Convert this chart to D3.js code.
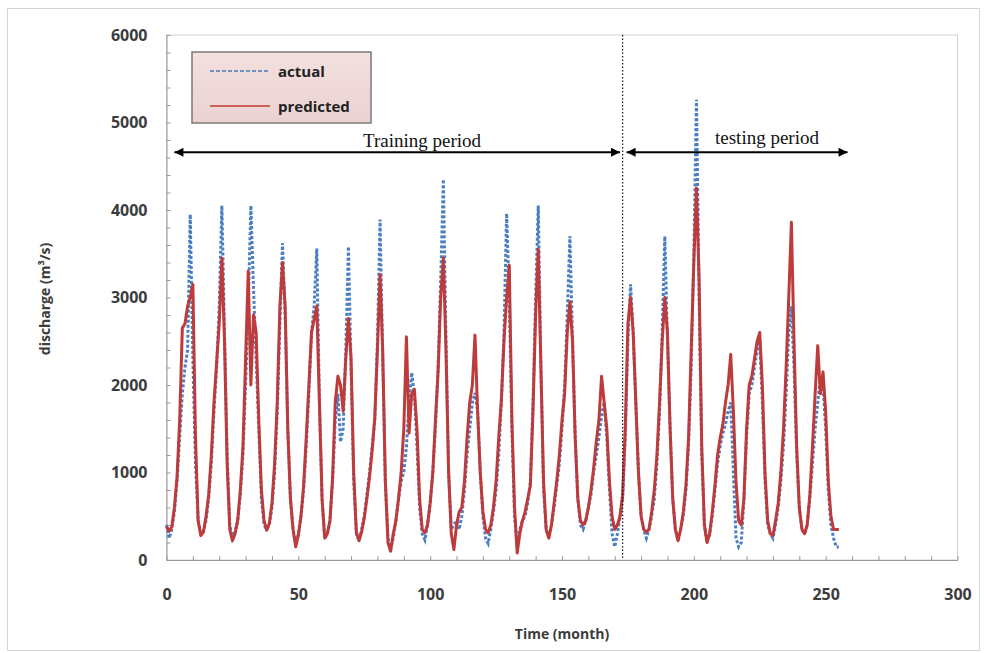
<html>
<head>
<style>
  body { margin: 0; background: #fff; }
  .tickLabel text { font-family: "Open Sans", sans-serif; font-weight: bold; font-size: 16px; fill: #3c3c3c; }
  .minor line, .minor path { stroke: #9a9a9a; }
  .axisTitle { font-family: "Open Sans", sans-serif; font-weight: bold; font-size: 14px; fill: #3c3c3c; }
  .legendText { font-family: "Open Sans", sans-serif; font-weight: bold; font-size: 15px; fill: #222; }
  .note { font-family: "Liberation Serif", "Times New Roman", serif; font-size: 19px; fill: #111; }
</style>
</head>
<body>
<svg id="chart" width="987" height="653"></svg>

<script src="https://cdn.jsdelivr.net/npm/d3@7"></script>
<script>
// monthly discharge (m3/s), month 0..255
let actual = [
  400, 250, 350, 550, 900, 1400, 1900, 2200, 2400, 3950, 2300, 1100, 450, 300,
  330, 450, 700, 1100, 1700, 2200, 2900, 4050, 2600, 1200, 400, 250,
  330, 450, 750, 1200, 2000, 2900, 4050, 3100, 2300, 1500, 700, 400, 350,
  400, 600, 1000, 1700, 2700, 3620, 2800, 1500, 700, 350, 180,
  300, 500, 800, 1300, 1900, 2600, 2900, 3560, 1800, 700, 250, 300,
  450, 900, 1600, 1900, 1350, 1500, 2400, 3580, 2200, 900, 300, 220,
  350, 500, 750, 1000, 1300, 1600, 2500, 3890, 2300, 900, 250, 120,
  250, 450, 700, 900, 1000, 1300, 1800, 2140, 1900, 1300, 600, 300, 230,
  400, 650, 1000, 1500, 2200, 3200, 4350, 2500, 1000, 350, 400, 450, 350, 500,
  800, 1200, 1500, 1800, 1910, 1700, 1000, 500, 250, 190,
  350, 550, 800, 1200, 1800, 2600, 3960, 3000, 1500, 500, 150, 350,
  450, 500, 650, 900, 1800, 3000, 4050, 2200, 800, 350, 250,
  400, 600, 850, 1100, 1500, 2000, 2800, 3700, 2500, 1400, 700, 400, 350,
  450, 600, 750, 1000, 1200, 1400, 1650, 1800, 1400, 800, 300, 150, 300,
  500, 700, 1400, 2500, 3150, 2600, 1800, 1000, 500, 350, 250,
  350, 500, 700, 1100, 1700, 2600, 3700, 2500, 1500, 700, 350, 220,
  350, 500, 800, 1300, 2200, 3500, 5260, 3000, 1200, 400, 200,
  300, 500, 800, 1100, 1300, 1450, 1550, 1700, 1800, 1000, 250, 150, 200,
  700, 1400, 1900, 2000, 2200, 2400, 2500, 1800, 900, 400, 300, 250,
  400, 600, 900, 1300, 1900, 2600, 2900, 2200, 1200, 600, 350, 300,
  400, 700, 1100, 1500, 1800, 2100, 2000, 1500, 800, 400, 250, 150, 150
]

let predicted = [
  380, 330, 380, 600, 950, 1600, 2650, 2700, 2900, 3000, 3150, 1400, 450, 280,
  320, 500, 750, 1200, 1800, 2250, 2700, 3450, 2500, 1100, 350, 220,
  300, 450, 800, 1300, 2300, 3300, 2000, 2800, 2600, 1600, 800, 450, 340,
  420, 650, 1100, 1800, 2900, 3400, 2900, 1500, 700, 350, 150,
  280, 500, 850, 1400, 2000, 2600, 2750, 2900, 1800, 700, 250, 300,
  450, 950, 1800, 2100, 2000, 1700, 2300, 2760, 2300, 1000, 320, 220,
  320, 480, 700, 950, 1250, 1630, 2400, 3260, 2400, 900, 200, 100,
  300, 450, 700, 1000, 1500, 2550, 1450, 1900, 1950, 1500, 700, 350, 310,
  400, 650, 1000, 1600, 2150, 3000, 3450, 2400, 1000, 300, 120, 400, 550, 600,
  900, 1400, 1800, 2000, 2570, 1700, 1000, 550, 350, 310,
  400, 600, 900, 1400, 1830, 2500, 3000, 3370, 1600, 600, 80, 300,
  450, 550, 700, 850, 1700, 2800, 3550, 2200, 900, 350, 250,
  400, 650, 900, 1200, 1600, 1900, 2600, 2950, 2500, 1400, 700, 450, 400,
  450, 600, 800, 1050, 1350, 1600, 2100, 1800, 1500, 900, 500, 350, 400,
  500, 750, 1500, 2700, 3000, 2600, 1800, 1000, 500, 350, 320,
  350, 550, 800, 1200, 1800, 2500, 3000, 2600, 1500, 700, 350, 220,
  350, 550, 850, 1400, 2400, 3400, 4250, 3200, 1300, 400, 200,
  300, 550, 850, 1200, 1400, 1550, 1800, 2000, 2350, 1700, 900, 450, 400,
  700, 1500, 2000, 2100, 2300, 2500, 2600, 2000, 1000, 450, 300, 280,
  450, 650, 1000, 1500, 2200, 3000, 3860, 2500, 1300, 600, 350, 300,
  400, 750, 1300, 1900, 2450, 1900, 2150, 1700, 900, 500, 350, 350, 350
]

let xTicks = [0, 50, 100, 150, 200, 250, 300]
let yTicks = [0, 1000, 2000, 3000, 4000, 5000, 6000]
let seriesNames = ["actual", "predicted"]

// period annotations, in data units (month, discharge)
let splitMonth = 173
let trainingSpan = [3, 172]
let testingSpan = [174.5, 258.3]
let arrowLevel = 4660

let svg = d3.select("#chart")

let x = d3.scaleLinear().domain([0, 300]).range([166.5, 957.5])
let y = d3.scaleLinear().domain([0, 6000]).range([560, 35])

// outer chart frame
svg.append("rect")
  .attr("x", 7.5).attr("y", 8.5).attr("width", 972).attr("height", 642)
  .attr("fill", "#fff").attr("stroke", "#d4d4d4")

// plot area border
svg.append("rect")
  .attr("x", x(0)).attr("y", y(6000))
  .attr("width", x(300) - x(0)).attr("height", y(0) - y(6000))
  .attr("fill", "#fff").attr("stroke", "#cfcfcf")

// minor ticks
svg.append("g").attr("class", "minor")
  .attr("transform", `translate(${x(0)},0)`)
  .call(d3.axisRight(y).tickValues(d3.range(0, 6001, 200)).tickSize(4).tickSizeOuter(0).tickFormat(""))
svg.append("g").attr("class", "minor")
  .attr("transform", `translate(0,${y(0)})`)
  .call(d3.axisTop(x).tickValues(d3.range(0, 301, 10)).tickSize(4).tickSizeOuter(0).tickFormat(""))

// tick labels
let yAxis = svg.append("g").attr("class", "tickLabel")
  .attr("transform", `translate(${x(0)},0)`)
  .call(d3.axisLeft(y).tickValues(yTicks).tickSize(0).tickPadding(19).tickFormat(d3.format("d")))
yAxis.select(".domain").remove()

let xAxis = svg.append("g").attr("class", "tickLabel")
  .attr("transform", `translate(0,${y(0)})`)
  .call(d3.axisBottom(x).tickValues(xTicks).tickSize(0).tickPadding(29).tickFormat(d3.format("d")))
xAxis.select(".domain").remove()

svg.append("text").attr("class", "axisTitle")
  .attr("x", 562).attr("y", 639).attr("text-anchor", "middle")
  .text("Time (month)")

svg.append("text").attr("class", "axisTitle")
  .attr("transform", "translate(50,299) rotate(-90)")
  .attr("text-anchor", "middle")
  .text("discharge (m³/s)")

// series
let line = d3.line()
  .x((d, i) => x(i))
  .y(d => y(d))

svg.append("path")
  .datum(actual)
  .attr("d", line)
  .attr("fill", "none")
  .attr("stroke", "#4a7fc1")
  .attr("stroke-width", 3)
  .attr("stroke-dasharray", "3,2")

svg.append("path")
  .datum(predicted)
  .attr("d", line)
  .attr("fill", "none")
  .attr("stroke", "#bf3b3b")
  .attr("stroke-width", 3)
  .attr("stroke-linejoin", "round")

// split line between training and testing
svg.append("line")
  .attr("x1", x(splitMonth)).attr("x2", x(splitMonth))
  .attr("y1", y(6000)).attr("y2", y(0))
  .attr("stroke", "#111").attr("stroke-width", 1.2)
  .attr("stroke-dasharray", "1.5,2")

// arrows
let defs = svg.append("defs")
defs.append("marker")
  .attr("id", "head")
  .attr("viewBox", "0 0 10 10")
  .attr("refX", 10).attr("refY", 5)
  .attr("markerWidth", 12).attr("markerHeight", 9)
  .attr("markerUnits", "userSpaceOnUse")
  .attr("orient", "auto-start-reverse")
  .append("path").attr("d", "M0,0L10,5L0,10Z").attr("fill", "#000")

let lg = defs.append("linearGradient").attr("id", "legendFill")
  .attr("x1", 0).attr("y1", 0).attr("x2", 0).attr("y2", 1)
lg.append("stop").attr("offset", "0%").attr("stop-color", "#f3e0df")
lg.append("stop").attr("offset", "100%").attr("stop-color", "#ead2d1")

let spans = [
  { span: trainingSpan, label: "Training period", tx: 422, ty: 147 },
  { span: testingSpan, label: "testing period", tx: 767, ty: 144 }
]
spans.forEach(s => {
  svg.append("line")
    .attr("x1", x(s.span[0])).attr("x2", x(s.span[1]))
    .attr("y1", y(arrowLevel)).attr("y2", y(arrowLevel))
    .attr("stroke", "#000").attr("stroke-width", 2)
    .attr("marker-start", "url(#head)")
    .attr("marker-end", "url(#head)")
  svg.append("text").attr("class", "note")
    .attr("x", s.tx).attr("y", s.ty).attr("text-anchor", "middle")
    .text(s.label)
})

// legend
let legend = svg.append("g").attr("transform", "translate(192,52)")
legend.append("rect")
  .attr("width", 179).attr("height", 71)
  .attr("fill", "url(#legendFill)")
  .attr("stroke", "#7a7a7a").attr("stroke-width", 1.5)

legend.selectAll(".key")
  .data(seriesNames)
  .enter()
  .append("line")
  .attr("x1", 18).attr("x2", 78)
  .attr("y1", (d, i) => 19 + i * 35).attr("y2", (d, i) => 19 + i * 35)
  .attr("stroke", d => d == "actual" ? "#6f93c6" : "#c9605c")
  .attr("stroke-width", 2)
  .attr("stroke-dasharray", d => d == "actual" ? "4,2" : null)

legend.selectAll(".legendText")
  .data(seriesNames)
  .enter()
  .append("text")
  .attr("class", "legendText")
  .attr("x", 86)
  .attr("y", (d, i) => 25 + i * 35)
  .text(d => d)
</script>
</body>
</html>
